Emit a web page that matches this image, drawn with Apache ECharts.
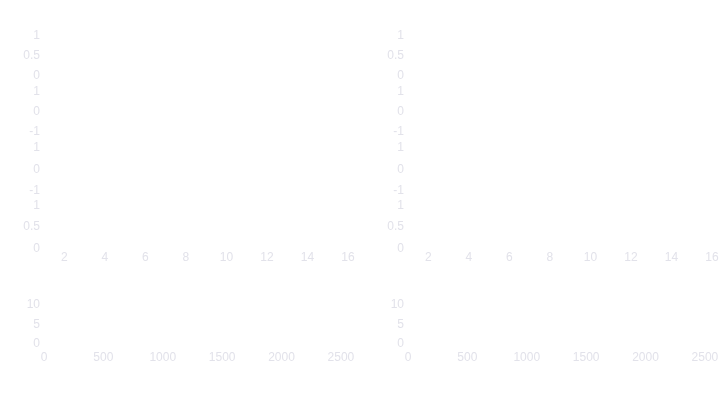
<!DOCTYPE html>
<html>
<head>
<meta charset="utf-8">
<script src="https://cdn.jsdelivr.net/npm/echarts@6/dist/echarts.min.js"></script>
<style>html,body{margin:0;padding:0;background:#fff;}#c{width:727px;height:409px;}</style>
</head>
<body>
<div id="c"></div>
<script>
// Tick ranges / labels
const stackXRange = [1, 16];
const stackXTickLabels = [2, 4, 6, 8, 10, 12, 14, 16];
const stackYRanges = [[0, 1, 0.5], [-1, 1, 1], [-1, 1, 1], [0, 1, 0.5]];
const bottomXRange = [0, 2560];
const bottomXTickLabels = [0, 500, 1000, 1500, 2000, 2500];
const bottomYRange = [0, 10, 5];
// No marks are visible in the reference (drawn white on white)
const stackSeriesData = [[], [], [], []];
const bottomSeriesData = [];

const W = '#ffffff';
const TXT = '#e2e2ea';
const columns = [{left: 44, width: 304}, {left: 408, width: 304}];
const stackTops = [35.5, 91.5, 148, 205.5];
const stackHeights = [40, 40, 43, 43];

const grid = [], xAxis = [], yAxis = [], series = [];
const fmt = (v) => String(v);
function axisStyle(showLabel, margin) {
  return {
    axisLine: {show: true, lineStyle: {color: W}},
    axisTick: {show: true, lineStyle: {color: W}},
    splitLine: {show: false},
    axisLabel: {show: showLabel, color: TXT, fontSize: 12, margin: margin, formatter: fmt}
  };
}
columns.forEach((col) => {
  stackTops.forEach((t, i) => {
    const gi = grid.length;
    grid.push({left: col.left, width: col.width, top: t, height: stackHeights[i]});
    const xa = Object.assign({type: 'value', gridIndex: gi, min: stackXRange[0], max: stackXRange[1]}, axisStyle(i === 3, 3));
    xa.axisLabel.customValues = stackXTickLabels;
    xa.axisTick.customValues = stackXTickLabels;
    xAxis.push(xa);
    const yr = stackYRanges[i];
    yAxis.push(Object.assign({type: 'value', gridIndex: gi, min: yr[0], max: yr[1], interval: yr[2]}, axisStyle(true, 4)));
    series.push({type: 'line', xAxisIndex: gi, yAxisIndex: gi, data: stackSeriesData[i], showSymbol: false, lineStyle: {color: W}});
  });
  const gi = grid.length;
  grid.push({left: col.left, width: col.width, top: 305, height: 39});
  const xb = Object.assign({type: 'value', gridIndex: gi, min: bottomXRange[0], max: bottomXRange[1]}, axisStyle(true, 8));
  xb.axisLabel.customValues = bottomXTickLabels;
  xb.axisTick.customValues = bottomXTickLabels;
  xAxis.push(xb);
  yAxis.push(Object.assign({type: 'value', gridIndex: gi, min: bottomYRange[0], max: bottomYRange[1], interval: bottomYRange[2]}, axisStyle(true, 4)));
  series.push({type: 'line', xAxisIndex: gi, yAxisIndex: gi, data: bottomSeriesData, showSymbol: false, lineStyle: {color: W}});
});

const chart = echarts.init(document.getElementById('c'), null, {renderer: 'canvas'});
chart.setOption({backgroundColor: '#fff', animation: false, grid, xAxis, yAxis, series});
</script>
</body>
</html>
